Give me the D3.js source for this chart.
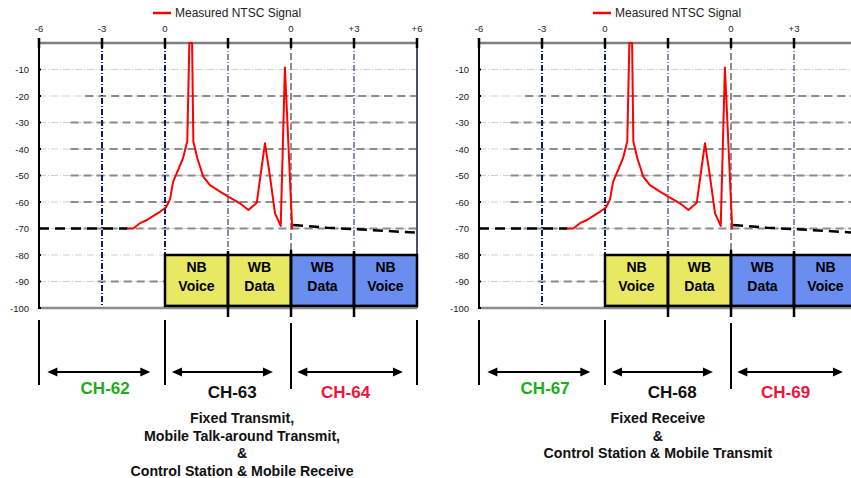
<!DOCTYPE html>
<html>
<head>
<meta charset="utf-8">
<script src="https://cdn.jsdelivr.net/npm/d3@7"></script>
<style>
  body { margin: 0; background: #fff; }
  svg { display: block; font-family: "Liberation Sans", Arial, sans-serif; }
</style>
</head>
<body>
<svg id="chart"></svg>
<script>
const W = 851, H = 478;

// x in MHz relative to the lower edge of the centre channel
const xTickValues = [-6, -3, 0, 3, 6, 9, 12];
const xTickLabels = ["-6", "-3", "0", "", "0", "+3", "+6"];
const yTickValues = [-10, -20, -30, -40, -50, -60, -70, -80, -90, -100];

// measured NTSC signal (MHz, dB)
const signalMHz = [-1.81, -1.52, -1.19, -0.86, -0.57, -0.24, 0.05, 0.24, 0.38, 0.62, 0.86, 1.06,
                   1.16, 1.29, 1.35, 1.54, 1.82, 2.14, 2.62, 3.01, 3.57, 3.97, 4.37, 4.76, 5.0,
                   5.24, 5.51, 5.71, 6.06];
const signalDb  = [-70, -70, -68, -66.8, -65.3, -63.7, -62, -59, -52.5, -48, -43.4, -37.2,
                   0, 0, -37.2, -43.5, -50.4, -53.6, -56.1, -58, -60.5, -63, -60.3, -37.8, -50.4,
                   -64.3, -69, -9.2, -70.3];

// dashed black floor lines
const floorLeft  = [[-6, -70], [-1.8, -70]];
const floorRight = [[6.1, -68.7], [7.7, -69.7], [9, -70.2], [12, -71.6]];

// sub-bands under the curve
const bandEdges  = [0, 3, 6, 9, 12];
const bandTop = ["NB", "WB", "WB", "NB"];
const bandBottom = ["Voice", "Data", "Data", "Voice"];
const bandFill = ["#e8e862", "#e8e862", "#6a8df0", "#6a8df0"];

// channels below
const channelEdges = [-6, 0, 6, 12];
const arrowSpans = [[-5.6, -0.7], [0.33, 5.14], [6.3, 11.33]];
const channelLabelX = [-2.85, 3.2, 8.6];
const channelColors = ["#1aae1a", "#111111", "#f0143c"];
const leftChannels = ["CH-62", "CH-63", "CH-64"];
const rightChannels = ["CH-67", "CH-68", "CH-69"];
const leftNotes = ["Fixed Transmit,", "Mobile Talk-around Transmit,", "&", "Control Station & Mobile Receive"];
const rightNotes = ["Fixed Receive", "&", "Control Station & Mobile Transmit"];

const svg = d3.select("#chart").attr("width", W).attr("height", H);

const y = d3.scaleLinear().domain([-100, 0]).range([308, 43]);

function arrowHead(g, x, yy, dir) {
  // dir = -1 points left, 1 points right
  g.append("path")
    .attr("d", `M${x},${yy} L${x - dir * 10},${yy - 4.5} L${x - dir * 10},${yy + 4.5} Z`)
    .attr("fill", "#000");
}

function drawPanel(x0, channels, notes, noteX) {
  const x = d3.scaleLinear().domain([-6, 12]).range([x0, x0 + 378]);
  const g = svg.append("g");

  // light dash-dot grid
  g.selectAll(".gl").data(yTickValues.slice(0, 9)).join("line")
    .attr("x1", x(-6)).attr("x2", x(12))
    .attr("y1", d => y(d)).attr("y2", d => y(d))
    .attr("stroke", "#cfcfcf").attr("stroke-width", 1)
    .attr("stroke-dasharray", "7,2,1,2");
  // heavier dashed grid
  g.selectAll(".gh").data([-20, -30, -40, -50, -60, -70]).join("line")
    .attr("x1", d => d === -20 ? x(-3.8) : x(-4.5)).attr("x2", x(12))
    .attr("y1", d => y(d)).attr("y2", d => y(d))
    .attr("stroke", "#8c8c8c").attr("stroke-width", 2)
    .attr("stroke-dasharray", "8,5");
  g.append("line")
    .attr("x1", x(-3.2)).attr("x2", x(0))
    .attr("y1", y(-90)).attr("y2", y(-90))
    .attr("stroke", "#8c8c8c").attr("stroke-width", 2)
    .attr("stroke-dasharray", "8,5");

  // vertical guide lines
  g.selectAll(".vn").data([-3, 0]).join("line")
    .attr("x1", d => x(d)).attr("x2", d => x(d))
    .attr("y1", y(0)).attr("y2", y(-100))
    .attr("stroke", "#0b1e5b").attr("stroke-width", 2)
    .attr("stroke-dasharray", "6,2,1,2");
  g.selectAll(".vt").data([3, 9]).join("line")
    .attr("x1", d => x(d)).attr("x2", d => x(d))
    .attr("y1", y(0)).attr("y2", y(-100))
    .attr("stroke", "#0b1e5b").attr("stroke-width", 1)
    .attr("stroke-dasharray", "6,2,1,2");
  g.append("line")
    .attr("x1", x(6)).attr("x2", x(6))
    .attr("y1", y(0)).attr("y2", y(-100))
    .attr("stroke", "#8c8c8c").attr("stroke-width", 2)
    .attr("stroke-dasharray", "7,3");
  g.append("line")
    .attr("x1", x(12)).attr("x2", x(12))
    .attr("y1", y(0)).attr("y2", y(-100))
    .attr("stroke", "#4a5068").attr("stroke-width", 2);

  // frame lines
  g.append("line").attr("x1", x(-6)).attr("x2", x(12))
    .attr("y1", y(0)).attr("y2", y(0))
    .attr("stroke", "#808080").attr("stroke-width", 2.5);
  g.append("line").attr("x1", x(-6)).attr("x2", x(12))
    .attr("y1", y(-100)).attr("y2", y(-100))
    .attr("stroke", "#8c8c8c").attr("stroke-width", 2.5);
  g.append("line").attr("x1", x(-6)).attr("x2", x(-6))
    .attr("y1", y(0) - 5).attr("y2", y(-100) + 1)
    .attr("stroke", "#000").attr("stroke-width", 2);

  // top ticks + labels (only those that fit inside the page)
  g.selectAll(".tk").data(xTickValues).join("line")
    .attr("x1", d => x(d)).attr("x2", d => x(d))
    .attr("y1", y(0) - 5).attr("y2", y(0) + 5)
    .attr("stroke", "#000").attr("stroke-width", 2.5);
  const shown = xTickValues.map((v, i) => ({ v, t: xTickLabels[i] })).filter(d => x(d.v) < W - 6);
  g.selectAll(".tl").data(shown).join("text")
    .attr("x", d => x(d.v)).attr("y", 32)
    .attr("text-anchor", "middle")
    .attr("font-size", 9.5).attr("fill", "#222")
    .text(d => d.t);

  // y labels
  g.selectAll(".yt").data(yTickValues).join("line")
    .attr("x1", x(-6) - 1).attr("x2", x(-6) + 2)
    .attr("y1", d => y(d)).attr("y2", d => y(d))
    .attr("stroke", "#000").attr("stroke-width", 2);
  g.selectAll(".yl").data(yTickValues).join("text")
    .attr("x", x(-6) - 10).attr("y", d => y(d) + 3.5)
    .attr("text-anchor", "end")
    .attr("font-size", 9.5).attr("fill", "#222")
    .text(d => d);

  // bands
  const bands = bandTop.map((t, i) => ({ a: bandEdges[i], b: bandEdges[i + 1], t, s: bandBottom[i], c: bandFill[i] }));
  g.selectAll(".band").data(bands).join("rect")
    .attr("x", d => x(d.a)).attr("y", y(-80))
    .attr("width", d => x(d.b) - x(d.a)).attr("height", y(-99.2) - y(-80))
    .attr("fill", d => d.c).attr("stroke", "#000").attr("stroke-width", 2.5);
  g.selectAll(".bdiv").data(bandEdges.slice(1, 4)).join("line")
    .attr("x1", d => x(d)).attr("x2", d => x(d))
    .attr("y1", d => d === 6 ? y(-78) : y(-78.5)).attr("y2", 317)
    .attr("stroke", "#000").attr("stroke-width", 2.5);
  g.selectAll(".bt1").data(bands).join("text")
    .attr("x", d => (x(d.a) + x(d.b)) / 2).attr("y", 272)
    .attr("text-anchor", "middle").attr("font-size", 14).attr("font-weight", "bold")
    .text(d => d.t);
  g.selectAll(".bt2").data(bands).join("text")
    .attr("x", d => (x(d.a) + x(d.b)) / 2).attr("y", 291)
    .attr("text-anchor", "middle").attr("font-size", 14).attr("font-weight", "bold")
    .text(d => d.s);

  // floor dashed lines
  const line = d3.line().x(d => x(d[0])).y(d => y(d[1]));
  [floorLeft, floorRight].forEach(f => {
    g.append("path").attr("d", line(f))
      .attr("fill", "none").attr("stroke", "#000").attr("stroke-width", 2.5)
      .attr("stroke-dasharray", "10,6");
  });

  // measured signal
  const sig = signalMHz.map((m, i) => [m, signalDb[i]]);
  g.append("path").attr("d", line(sig))
    .attr("fill", "none").attr("stroke", "#ff0000").attr("stroke-width", 2)
    .attr("stroke-linejoin", "round");

  // legend
  g.append("line").attr("x1", x0 + 114).attr("x2", x0 + 132)
    .attr("y1", 13).attr("y2", 13).attr("stroke", "#ff0000").attr("stroke-width", 2.5);
  g.append("text").attr("x", x0 + 136).attr("y", 17)
    .attr("font-size", 12).attr("fill", "#222").text("Measured NTSC Signal");

  // channel separators and arrows
  g.selectAll(".cs").data(channelEdges).join("line")
    .attr("x1", d => x(d)).attr("x2", d => x(d))
    .attr("y1", d => d === 6 ? 323 : 320).attr("y2", d => d === 6 ? 389 : 385)
    .attr("stroke", "#000").attr("stroke-width", 2);
  arrowSpans.forEach(s => {
    const xa = x(s[0]), xb = x(s[1]);
    g.append("line").attr("x1", xa + 6).attr("x2", xb - 6)
      .attr("y1", 372).attr("y2", 372).attr("stroke", "#000").attr("stroke-width", 2);
    arrowHead(g, xa, 372, -1);
    arrowHead(g, xb, 372, 1);
  });
  g.selectAll(".cl").data(channels).join("text")
    .attr("x", (d, i) => x(channelLabelX[i]))
    .attr("y", (d, i) => i === 0 ? 394 : 398)
    .attr("text-anchor", "middle").attr("font-size", 17).attr("font-weight", "bold")
    .attr("fill", (d, i) => channelColors[i])
    .text(d => d);

  g.selectAll(".nt").data(notes).join("text")
    .attr("x", x(noteX)).attr("y", (d, i) => 423 + i * 17.5)
    .attr("text-anchor", "middle").attr("font-size", 14.2).attr("font-weight", "bold")
    .attr("fill", "#111")
    .text(d => d);
}

drawPanel(39, leftChannels, leftNotes, 3.67);
drawPanel(479, rightChannels, rightNotes, 2.52);
</script>
</body>
</html>
